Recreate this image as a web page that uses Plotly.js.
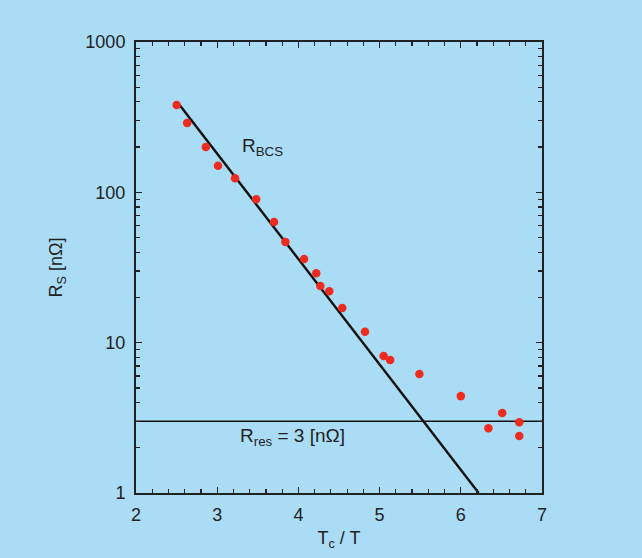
<!DOCTYPE html>
<html>
<head>
<meta charset="utf-8">
<script src="https://cdn.plot.ly/plotly-3.0.1.min.js"></script>
<style>html,body{margin:0;padding:0;background:#aadcf5;}</style>
</head>
<body>
<div id="chart" style="width:642px;height:558px;"></div>
<script>
// Measured surface resistance data
const tcOverT = [2.50, 2.63, 2.86, 3.01, 3.22, 3.48, 3.70, 3.84, 4.07, 4.22, 4.27, 4.38, 4.54, 4.82, 5.05, 5.13, 5.49, 6.00, 6.51, 6.72, 6.34, 6.72];
const rsValues = [381, 289, 200, 150, 124, 90, 63.4, 46.7, 36, 29, 23.8, 22, 17, 11.8, 8.15, 7.66, 6.18, 4.41, 3.40, 2.96, 2.70, 2.39];
// BCS fit line
const bcsX = [2.53, 6.22];
const bcsY = [386, 1];
// Residual resistance
const resX = [2, 7];
const resY = [3, 3];
const xTicks = [2, 3, 4, 5, 6, 7];
const yTicks = [1, 10, 100, 1000];
const yTickText = ['1', '10', '100', '1000'];
const yMinor = [2,3,4,5,6,7,8,9,20,30,40,50,60,70,80,90,200,300,400,500,600,700,800,900];

const font = {family: 'Liberation Sans, Arial, sans-serif', size: 18, color: '#222'};
const annFont = {family: 'Liberation Sans, Arial, sans-serif', size: 19, color: '#222'};

const traces = [
  {x: bcsX, y: bcsY, mode: 'lines', line: {color: '#111', width: 2.4}, hoverinfo: 'skip'},
  {x: resX, y: resY, mode: 'lines', line: {color: '#111', width: 1.5}, hoverinfo: 'skip'},
  {x: tcOverT, y: rsValues, mode: 'markers', marker: {color: '#ee2b1f', size: 8.5}}
];

const layout = {
  width: 642, height: 558,
  paper_bgcolor: '#aadcf5', plot_bgcolor: '#aadcf5',
  margin: {l: 136, r: 100, t: 42, b: 65},
  showlegend: false,
  font: font,
  xaxis: {
    range: [2, 7], tickvals: xTicks, ticks: 'inside', ticklen: 6, tickwidth: 1.3, tickcolor: '#222',
    showline: true, linecolor: '#222', linewidth: 2, mirror: 'ticks', showgrid: false, zeroline: false,
    minor: {dtick: 0.2, ticks: 'inside', ticklen: 4, tickwidth: 1.2, tickcolor: '#222', showgrid: false},
    ticklabelstandoff: 4,
    title: {text: 'T<sub>c</sub> / T', font: font, standoff: 8}
  },
  yaxis: {
    type: 'log', range: [0, 3], tickvals: yTicks, ticktext: yTickText,
    ticks: 'inside', ticklen: 6, tickwidth: 1.3, tickcolor: '#222',
    showline: true, linecolor: '#222', linewidth: 2, mirror: 'ticks', showgrid: false, zeroline: false,
    minor: {tickmode: 'array', tickvals: yMinor, ticks: 'inside', ticklen: 4, tickwidth: 1.2, tickcolor: '#222', showgrid: false},
    ticklabelstandoff: 5,
    title: {text: 'R<sub>S</sub> [nΩ]', font: font, standoff: 18}
  },
  annotations: [
    {x: 3.28, y: Math.log10(200), xref: 'x', yref: 'y', xanchor: 'left', yanchor: 'middle', showarrow: false,
     text: 'R<sub>BCS</sub>', font: annFont},
    {x: 3.26, y: Math.log10(2.36), xref: 'x', yref: 'y', xanchor: 'left', yanchor: 'middle', showarrow: false,
     text: 'R<sub>res</sub> = 3 [nΩ]', font: annFont}
  ]
};

Plotly.newPlot('chart', traces, layout, {displayModeBar: false, staticPlot: true});
</script>
</body>
</html>
